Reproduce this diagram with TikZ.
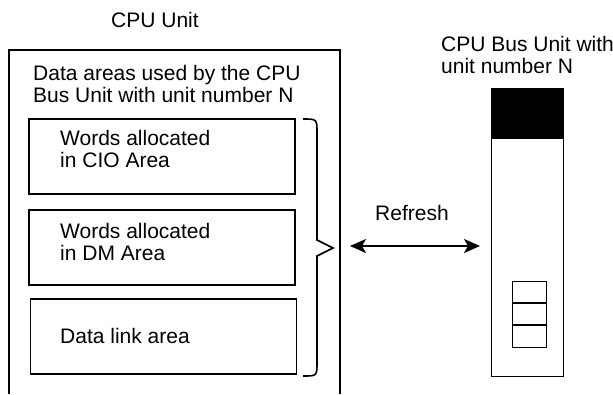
\documentclass[tikz,border=0pt]{standalone}
\usepackage{fontspec}
\setmainfont{Liberation Sans}
\usetikzlibrary{arrows.meta}
\begin{document}
\begin{tikzpicture}[x=1pt,y=-1pt,
  txt/.style={anchor=base west,inner sep=0pt,font=\fontsize{21}{22}\selectfont,align=left},
  areabox/.style={draw,line width=1.6pt,inner sep=0pt,minimum width=266pt,minimum height=75pt},
  frame/.style={line width=1.6pt},
  thin/.style={line width=0.9pt}]
\useasboundingbox (0,0) rectangle (613,394);
% CPU unit
\node[txt,anchor=base] (cputitle) at (155,27) {CPU Unit};
\draw[frame] (9,394) -- (9,50) -- (340,50) -- (340,394);
\node[txt] (datatitle) at (33,102) {Data areas used by the CPU\\Bus Unit with unit number N};
% area boxes
\node[areabox] (cio) at (162,156.5) {};
\node[txt] (ciotxt) at (60,167) {Words allocated\\in CIO Area};
\node[areabox] (dm) at (162,247.5) {};
\node[txt] (dmtxt) at (60,260) {Words allocated\\in DM Area};
\node[areabox] (dl) at (163.5,336.5) {};
\node[txt] (dltxt) at (60,343) {Data link area};
% brace
\coordinate (btip) at (333,248);
\draw[frame] (303,119) .. controls (317,119) .. (317,133) -- (317,240) -- (btip) -- (317,256) -- (317,362) .. controls (317,376) .. (303,376);
% CPU bus unit
\node[txt] (bustitle) at (441,73) {CPU Bus Unit with\\unit number N};
\node[draw,thin,inner sep=0pt,minimum width=72pt,minimum height=288pt] (unit) at (527,232) {};
\node[fill=black,draw,thin,inner sep=0pt,minimum width=72pt,minimum height=50pt] (unittop) at (527,113) {};
\node[draw,thin,inner sep=0pt,minimum width=34pt,minimum height=66pt] (sw) at (529,314) {};
\draw[line width=1.3pt] (sw.west |- 0,303) -- (sw.east |- 0,303);
\draw[line width=1.3pt] (sw.west |- 0,325) -- (sw.east |- 0,325);
% refresh arrow
\coordinate (aL) at (350,246);
\coordinate (aR) at (480,246);
\draw[line width=1.5pt,{Stealth[length=16pt,width=14pt,inset=4pt]}-{Stealth[length=16pt,width=14pt,inset=4pt]}] (aL) -- (aR);
\node[txt] (refresh) at (375,220) {Refresh};
\end{tikzpicture}
\end{document}
